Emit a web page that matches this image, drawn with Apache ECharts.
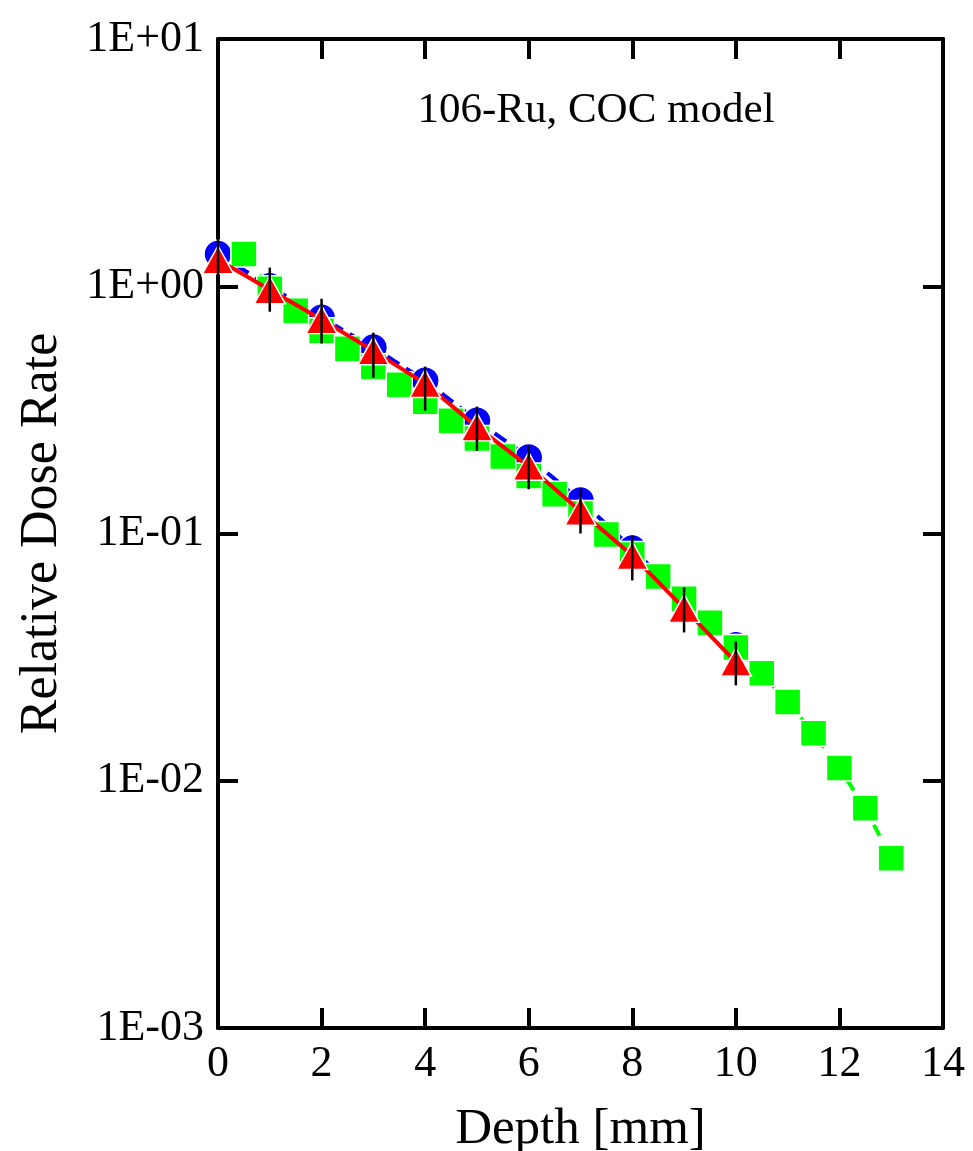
<!DOCTYPE html>
<html>
<head>
<meta charset="utf-8">
<script src="https://cdn.jsdelivr.net/npm/echarts@6/dist/echarts.min.js"></script>
<style>
html,body{margin:0;padding:0;background:#fff;}
#chart{width:973px;height:1151px;}
</style>
</head>
<body>
<div id="chart"></div>
<script>
// ---- data ----
const title = '106-Ru, COC model';
const xTitle = 'Depth [mm]';
const yTitle = 'Relative Dose Rate';
const xTickLabels = ['0','2','4','6','8','10','12','14'];
const yTickLabels = ['1E-03','1E-02','1E-01','1E+00','1E+01'];

// blue circles (dashed blue line)
const blueX = [0,1,2,3,4,5,6,7,8,9,10];
const blueY = [1.35,1.00,0.746,0.565,0.415,0.286,0.203,0.136,0.087,0.0536,0.0353];

// red triangles (solid red line) with error bars
const redX = [0,1,2,3,4,5,6,7,8,9,10];
const redY = [1.28,0.968,0.733,0.548,0.404,0.270,0.187,0.123,0.0815,0.0498,0.0302];
const redErrLow  = [1.05,0.789,0.586,0.427,0.314,0.216,0.151,0.100,0.0646,0.0398,0.0243];
const redErrHigh = [1.66,1.19,0.890,0.649,0.473,0.326,0.227,0.152,0.0982,0.0605,0.0366];

// green squares (dashed green line)
const greenX = [0.5,1,1.5,2,2.5,3,3.5,4,4.5,5,5.5,6,6.5,7,7.5,8,8.5,9,9.5,10,10.5,11,11.5,12,12.5,13];
const greenY = [1.35,0.977,0.796,0.661,0.559,0.473,0.400,0.341,0.286,0.242,0.205,0.171,0.144,0.1205,0.099,0.0822,0.0670,0.0545,0.0436,0.0346,0.0272,0.0208,0.01556,0.01125,0.00774,0.00486];

// ---- chart ----
const FONT = '"Liberation Serif","Times New Roman",serif';
const zip = (xs, ys) => xs.map((x, i) => [x, ys[i]]);
const yLabel = v => {
  const e = Math.round(Math.log10(v));
  return yTickLabels[e + 3] !== undefined ? yTickLabels[e + 3] : '';
};
const xLabel = v => {
  const i = xTickLabels.indexOf(String(v));
  return i >= 0 ? xTickLabels[i] : '';
};

const axisLine = {show: true, onZero: false, lineStyle: {color: '#000', width: 4}};
const axisTick = {show: true, inside: true, length: 20, lineStyle: {color: '#000', width: 4}};

const chart = echarts.init(document.getElementById('chart'), null, {renderer: 'canvas'});
chart.setOption({
  backgroundColor: '#fff',
  animation: false,
  title: {
    text: title, left: 591, top: 84, textAlign: 'center',
    textStyle: {fontFamily: FONT, fontSize: 43, fontWeight: 'normal', color: '#000'}
  },
  grid: {left: 218, right: 30, top: 39, bottom: 123, containLabel: false, outerBoundsMode: 'none'},
  xAxis: [{
    type: 'value', min: 0, max: 14, interval: 2, position: 'bottom',
    name: xTitle, nameLocation: 'middle', nameGap: 76,
    nameTextStyle: {fontFamily: FONT, fontSize: 51, color: '#000'},
    axisLine, axisTick, splitLine: {show: false},
    axisLabel: {fontFamily: FONT, fontSize: 44, color: '#000', margin: 14, formatter: xLabel}
  }, {
    type: 'value', min: 0, max: 14, interval: 2, position: 'top',
    axisLine, axisTick, splitLine: {show: false}, axisLabel: {show: false}
  }],
  yAxis: [{
    type: 'log', logBase: 10, min: 0.001, max: 10, position: 'left',
    name: yTitle, nameLocation: 'middle', nameGap: 150, nameRotate: 90,
    nameTextStyle: {fontFamily: FONT, fontSize: 52, color: '#000'},
    axisLine, axisTick, splitLine: {show: false}, minorTick: {show: false},
    axisLabel: {fontFamily: FONT, fontSize: 44, color: '#000', margin: 14, formatter: yLabel}
  }, {
    type: 'log', logBase: 10, min: 0.001, max: 10, position: 'right',
    axisLine, axisTick, splitLine: {show: false}, axisLabel: {show: false}
  }],
  series: [{
    name: 'blue', type: 'line', data: zip(blueX, blueY),
    symbol: 'circle', symbolSize: 28,
    itemStyle: {color: '#0000ff', borderColor: '#fff', borderWidth: 1.5},
    lineStyle: {color: '#0000ff', width: 4, type: [14, 8]},
    z: 2
  }, {
    name: 'green', type: 'line', data: zip(greenX, greenY),
    symbol: 'rect', symbolSize: 26,
    itemStyle: {color: '#00ff00', borderColor: '#fff', borderWidth: 1.5},
    lineStyle: {color: '#00ff00', width: 4, type: [12, 14]},
    z: 3
  }, {
    name: 'red', type: 'line', data: zip(redX, redY),
    symbol: 'triangle', symbolSize: [31, 28],
    itemStyle: {color: '#ff0000', borderColor: '#fff', borderWidth: 1.5},
    lineStyle: {color: '#ff0000', width: 4},
    z: 4
  }, {
    name: 'err', type: 'custom',
    data: redX.map((x, i) => [x, redErrLow[i], redErrHigh[i]]),
    encode: {x: 0, y: [1, 2]},
    renderItem: (params, api) => {
      const a = api.coord([api.value(0), api.value(1)]);
      const b = api.coord([api.value(0), api.value(2)]);
      return {
        type: 'line',
        shape: {x1: a[0], y1: a[1], x2: b[0], y2: b[1]},
        style: {stroke: '#000', lineWidth: 2.5}
      };
    },
    z: 5
  }]
});
</script>
</body>
</html>
